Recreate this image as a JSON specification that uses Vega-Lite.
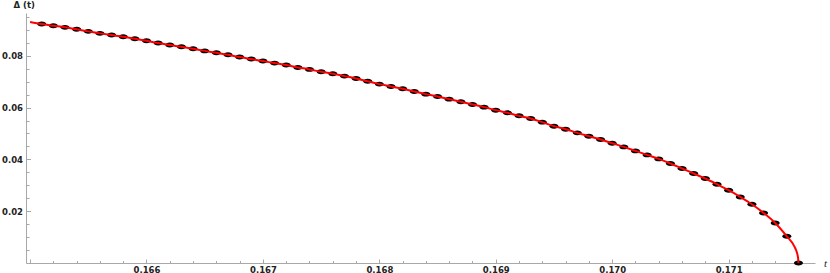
{
  "$schema": "https://vega.github.io/schema/vega-lite/v6.json",
  "width": 789,
  "height": 250,
  "autosize": {"type": "none"},
  "padding": {"left": 26, "top": 13, "right": 15, "bottom": 10},
  "background": "white",
  "config": {
    "view": {"stroke": null},
    "axis": {
      "grid": false,
      "domainColor": "#a8a8a8",
      "tickColor": "#a8a8a8",
      "labelFont": "DejaVu Sans",
      "labelFontWeight": "bold",
      "labelFontSize": 8.5,
      "labelColor": "#222222"
    }
  },
  "datasets": {
    "points": [
      {"t": 0.1651, "d": 0.09223}, {"t": 0.1652, "d": 0.09158}, {"t": 0.1653, "d": 0.09096},
      {"t": 0.1654, "d": 0.09019}, {"t": 0.1655, "d": 0.08941}, {"t": 0.1656, "d": 0.08864},
      {"t": 0.1657, "d": 0.08798}, {"t": 0.1658, "d": 0.08733}, {"t": 0.1659, "d": 0.08655},
      {"t": 0.1660, "d": 0.08578}, {"t": 0.1661, "d": 0.08489}, {"t": 0.1662, "d": 0.08412},
      {"t": 0.1663, "d": 0.08346}, {"t": 0.1664, "d": 0.08269}, {"t": 0.1665, "d": 0.08188},
      {"t": 0.1666, "d": 0.08114}, {"t": 0.1667, "d": 0.08037}, {"t": 0.1668, "d": 0.07948},
      {"t": 0.1669, "d": 0.07871}, {"t": 0.1670, "d": 0.07794}, {"t": 0.1671, "d": 0.07716},
      {"t": 0.1672, "d": 0.07639}, {"t": 0.1673, "d": 0.07550}, {"t": 0.1674, "d": 0.07473},
      {"t": 0.1675, "d": 0.07380}, {"t": 0.1676, "d": 0.07303}, {"t": 0.1677, "d": 0.07214},
      {"t": 0.1678, "d": 0.07125}, {"t": 0.1679, "d": 0.07013}, {"t": 0.1680, "d": 0.06905},
      {"t": 0.1681, "d": 0.06816}, {"t": 0.1682, "d": 0.06723}, {"t": 0.1683, "d": 0.06623},
      {"t": 0.1684, "d": 0.06518}, {"t": 0.1685, "d": 0.06430}, {"t": 0.1686, "d": 0.06325},
      {"t": 0.1687, "d": 0.06221}, {"t": 0.1688, "d": 0.06121}, {"t": 0.1689, "d": 0.06016},
      {"t": 0.1690, "d": 0.05900}, {"t": 0.1691, "d": 0.05796}, {"t": 0.1692, "d": 0.05680},
      {"t": 0.1693, "d": 0.05580}, {"t": 0.1694, "d": 0.05437}, {"t": 0.1695, "d": 0.05282},
      {"t": 0.1696, "d": 0.05166}, {"t": 0.1697, "d": 0.05023}, {"t": 0.1698, "d": 0.04896},
      {"t": 0.1699, "d": 0.04768}, {"t": 0.1700, "d": 0.04625}, {"t": 0.1701, "d": 0.04482},
      {"t": 0.1702, "d": 0.04328}, {"t": 0.1703, "d": 0.04173}, {"t": 0.1704, "d": 0.04019},
      {"t": 0.1705, "d": 0.03841}, {"t": 0.1706, "d": 0.03648}, {"t": 0.1707, "d": 0.03454},
      {"t": 0.1708, "d": 0.03261}, {"t": 0.1709, "d": 0.03041}, {"t": 0.1710, "d": 0.02809},
      {"t": 0.1711, "d": 0.02550}, {"t": 0.1712, "d": 0.02268}, {"t": 0.1713, "d": 0.01932},
      {"t": 0.1714, "d": 0.01546}, {"t": 0.1715, "d": 0.01032}, {"t": 0.1716, "d": 0.0}
    ],
    "curve": [
      {"t": 0.1650, "d": 0.09300},
      {"t": 0.1651, "d": 0.09223}, {"t": 0.1652, "d": 0.09158}, {"t": 0.1653, "d": 0.09096},
      {"t": 0.1654, "d": 0.09019}, {"t": 0.1655, "d": 0.08941}, {"t": 0.1656, "d": 0.08864},
      {"t": 0.1657, "d": 0.08798}, {"t": 0.1658, "d": 0.08733}, {"t": 0.1659, "d": 0.08655},
      {"t": 0.1660, "d": 0.08578}, {"t": 0.1661, "d": 0.08489}, {"t": 0.1662, "d": 0.08412},
      {"t": 0.1663, "d": 0.08346}, {"t": 0.1664, "d": 0.08269}, {"t": 0.1665, "d": 0.08188},
      {"t": 0.1666, "d": 0.08114}, {"t": 0.1667, "d": 0.08037}, {"t": 0.1668, "d": 0.07948},
      {"t": 0.1669, "d": 0.07871}, {"t": 0.1670, "d": 0.07794}, {"t": 0.1671, "d": 0.07716},
      {"t": 0.1672, "d": 0.07639}, {"t": 0.1673, "d": 0.07550}, {"t": 0.1674, "d": 0.07473},
      {"t": 0.1675, "d": 0.07380}, {"t": 0.1676, "d": 0.07303}, {"t": 0.1677, "d": 0.07214},
      {"t": 0.1678, "d": 0.07125}, {"t": 0.1679, "d": 0.07013}, {"t": 0.1680, "d": 0.06905},
      {"t": 0.1681, "d": 0.06816}, {"t": 0.1682, "d": 0.06723}, {"t": 0.1683, "d": 0.06623},
      {"t": 0.1684, "d": 0.06518}, {"t": 0.1685, "d": 0.06430}, {"t": 0.1686, "d": 0.06325},
      {"t": 0.1687, "d": 0.06221}, {"t": 0.1688, "d": 0.06121}, {"t": 0.1689, "d": 0.06016},
      {"t": 0.1690, "d": 0.05900}, {"t": 0.1691, "d": 0.05796}, {"t": 0.1692, "d": 0.05680},
      {"t": 0.1693, "d": 0.05580}, {"t": 0.1694, "d": 0.05437}, {"t": 0.1695, "d": 0.05282},
      {"t": 0.1696, "d": 0.05166}, {"t": 0.1697, "d": 0.05023}, {"t": 0.1698, "d": 0.04896},
      {"t": 0.1699, "d": 0.04768}, {"t": 0.1700, "d": 0.04625}, {"t": 0.1701, "d": 0.04482},
      {"t": 0.1702, "d": 0.04328}, {"t": 0.1703, "d": 0.04173}, {"t": 0.1704, "d": 0.04019},
      {"t": 0.1705, "d": 0.03841}, {"t": 0.1706, "d": 0.03648}, {"t": 0.1707, "d": 0.03454},
      {"t": 0.1708, "d": 0.03261}, {"t": 0.1709, "d": 0.03041}, {"t": 0.1710, "d": 0.02809},
      {"t": 0.1711, "d": 0.02550}, {"t": 0.1712, "d": 0.02268}, {"t": 0.1713, "d": 0.01932},
      {"t": 0.1714, "d": 0.01546}, {"t": 0.1715, "d": 0.01032}, {"t": 0.17156, "d": 0.0068},
      {"t": 0.17158, "d": 0.0049}, {"t": 0.171597, "d": 0.0018}, {"t": 0.1716, "d": 0.0}
    ]
  },
  "layer": [
    {
      "data": {"name": "points"},
      "mark": {
        "type": "point",
        "filled": true,
        "opacity": 1,
        "color": "#000000",
        "shape": "M-1,0A1,0.55 0 1,0 1,0A1,0.55 0 1,0 -1,0Z",
        "size": 81
      },
      "encoding": {
        "x": {
          "field": "t",
          "type": "quantitative",
          "scale": {"domain": [0.164965, 0.171742], "nice": false, "zero": false},
          "axis": {
            "values": [0.165, 0.1652, 0.1654, 0.1656, 0.1658, 0.166, 0.1662, 0.1664, 0.1666, 0.1668, 0.167, 0.1672, 0.1674, 0.1676, 0.1678, 0.168, 0.1682, 0.1684, 0.1686, 0.1688, 0.169, 0.1692, 0.1694, 0.1696, 0.1698, 0.17, 0.1702, 0.1704, 0.1706, 0.1708, 0.171, 0.1712, 0.1714, 0.1716],
            "tickCount": 500,
            "labelExpr": "(abs(datum.value*1000 - round(datum.value*1000)) < 0.01 && datum.value > 0.1655) ? format(datum.value, '.3f') : ''",
            "tickSize": {"condition": {"test": "abs(datum.value*1000 - round(datum.value*1000)) < 0.01", "value": -4}, "value": -2.5},
            "labelOverlap": false,
            "labelFlush": false,
            "labelBound": false,
            "labelPadding": 6,
            "title": "t",
            "titleFont": "Liberation Serif",
            "titleFontStyle": "italic",
            "titleFontWeight": "normal",
            "titleFontSize": 11,
            "titleColor": "#222222",
            "titleX": 799,
            "titleY": 0,
            "titleAlign": "center",
            "titleBaseline": "middle"
          }
        },
        "y": {
          "field": "d",
          "type": "quantitative",
          "scale": {"domain": [0, 0.0965], "nice": false, "zero": false},
          "axis": {
            "values": [0.005, 0.01, 0.015, 0.02, 0.025, 0.03, 0.035, 0.04, 0.045, 0.05, 0.055, 0.06, 0.065, 0.07, 0.075, 0.08, 0.085, 0.09, 0.095],
            "tickCount": 500,
            "labelExpr": "(abs(datum.value*50 - round(datum.value*50)) < 0.01) ? format(datum.value, '.2f') : ''",
            "tickSize": {"condition": {"test": "abs(datum.value*50 - round(datum.value*50)) < 0.01", "value": -4.5}, "value": -3},
            "labelOverlap": false,
            "labelFlush": false,
            "labelBound": false,
            "labelPadding": 8,
            "title": "Δ (t)",
            "titleAngle": 0,
            "titleFont": "DejaVu Sans",
            "titleFontWeight": "bold",
            "titleFontSize": 8.5,
            "titleColor": "#222222",
            "titleX": -13,
            "titleY": -9,
            "titleAlign": "left",
            "titleBaseline": "middle"
          }
        }
      }
    },
    {
      "data": {"name": "curve"},
      "mark": {"type": "line", "color": "#ff0000", "strokeWidth": 2, "interpolate": "monotone"},
      "encoding": {
        "x": {"field": "t", "type": "quantitative"},
        "y": {"field": "d", "type": "quantitative"}
      }
    }
  ]
}
